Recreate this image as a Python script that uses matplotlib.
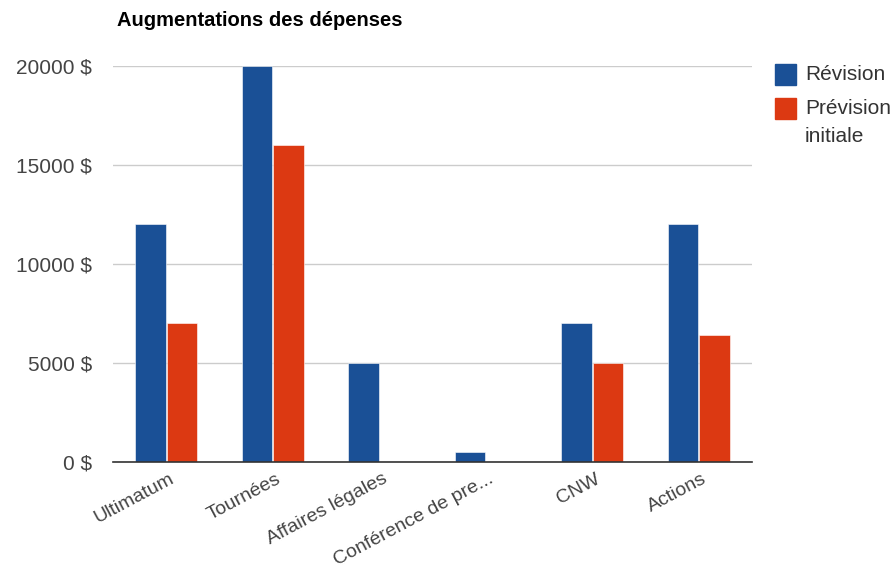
"""Augmentations des dépenses: grouped bar chart."""

import matplotlib

matplotlib.use("Agg")
import matplotlib.pyplot as plt
import matplotlib.transforms as mtransforms
from matplotlib.patches import Rectangle
import numpy as np

categories = ["Ultimatum", "Tournées", "Affaires légales",
              "Conférence de pre...", "CNW", "Actions"]
revision = [12000, 20000, 5000, 500, 7000, 12000]
prevision = [7000, 16000, 0, 0, 5000, 6400]
yticks = [0, 5000, 10000, 15000, 20000]
series = ["Révision", "Prévision\ninitiale"]

BLUE = "#1a5096"
RED = "#dc3912"
W, H = 895, 571

plt.rcParams["font.family"] = ["Liberation Sans", "DejaVu Sans"]

fig = plt.figure(figsize=(W / 100, H / 100), dpi=100)
ax = fig.add_axes([113 / W, 1 - 462 / H, 639 / W, 396 / H])

x = np.arange(len(categories))
w = 0.29
ax.bar(x - w / 2 - 0.003, revision, w, color=BLUE, edgecolor="white", linewidth=0.4)
ax.bar(x + w / 2 + 0.003, prevision, w, color=RED, edgecolor="white", linewidth=0.4)

ax.set_xlim(-0.5, len(categories) - 0.5)
ax.set_ylim(0, 20000)
ax.set_yticks(yticks)
ax.set_yticklabels([f"{v} $" for v in yticks], color="#444444", fontsize=15)
ax.yaxis.grid(True, color="#cccccc", linewidth=1)
ax.set_axisbelow(True)
ax.axhline(0, color="#333333", linewidth=1.2, clip_on=False)
ax.tick_params(axis="y", length=0, pad=15)
ax.tick_params(axis="x", length=0, pad=6)
for s in ax.spines.values():
    s.set_visible(False)

ax.set_xticks(x)
labels = ax.set_xticklabels(categories, rotation=28, ha="right", va="top",
                            rotation_mode="anchor", fontsize=14, color="#444444")
off = mtransforms.ScaledTranslation(3 / 100, 0, fig.dpi_scale_trans)
for lab in labels:
    lab.set_transform(lab.get_transform() + off)

fig.text(117 / W, 1 - 21 / H, "Augmentations des dépenses",
         fontsize=14.5, fontweight="bold", va="center", ha="left")

# legend drawn by hand so the swatch sits on the first text line
for i, (name, col) in enumerate(zip(series, [BLUE, RED])):
    top = 64 + 34 * i
    fig.patches.append(Rectangle((775 / W, 1 - (top + 21) / H), 21 / W, 21 / H,
                                 transform=fig.transFigure, color=col))
    fig.text(805 / W, 1 - (top + 11) / H, name, fontsize=15, color="#333333",
             va="top", ha="left", linespacing=1.6,
             transform=fig.transFigure + mtransforms.ScaledTranslation(
                 0, 10 / 100, fig.dpi_scale_trans))

fig.savefig("out.png", dpi=100)
